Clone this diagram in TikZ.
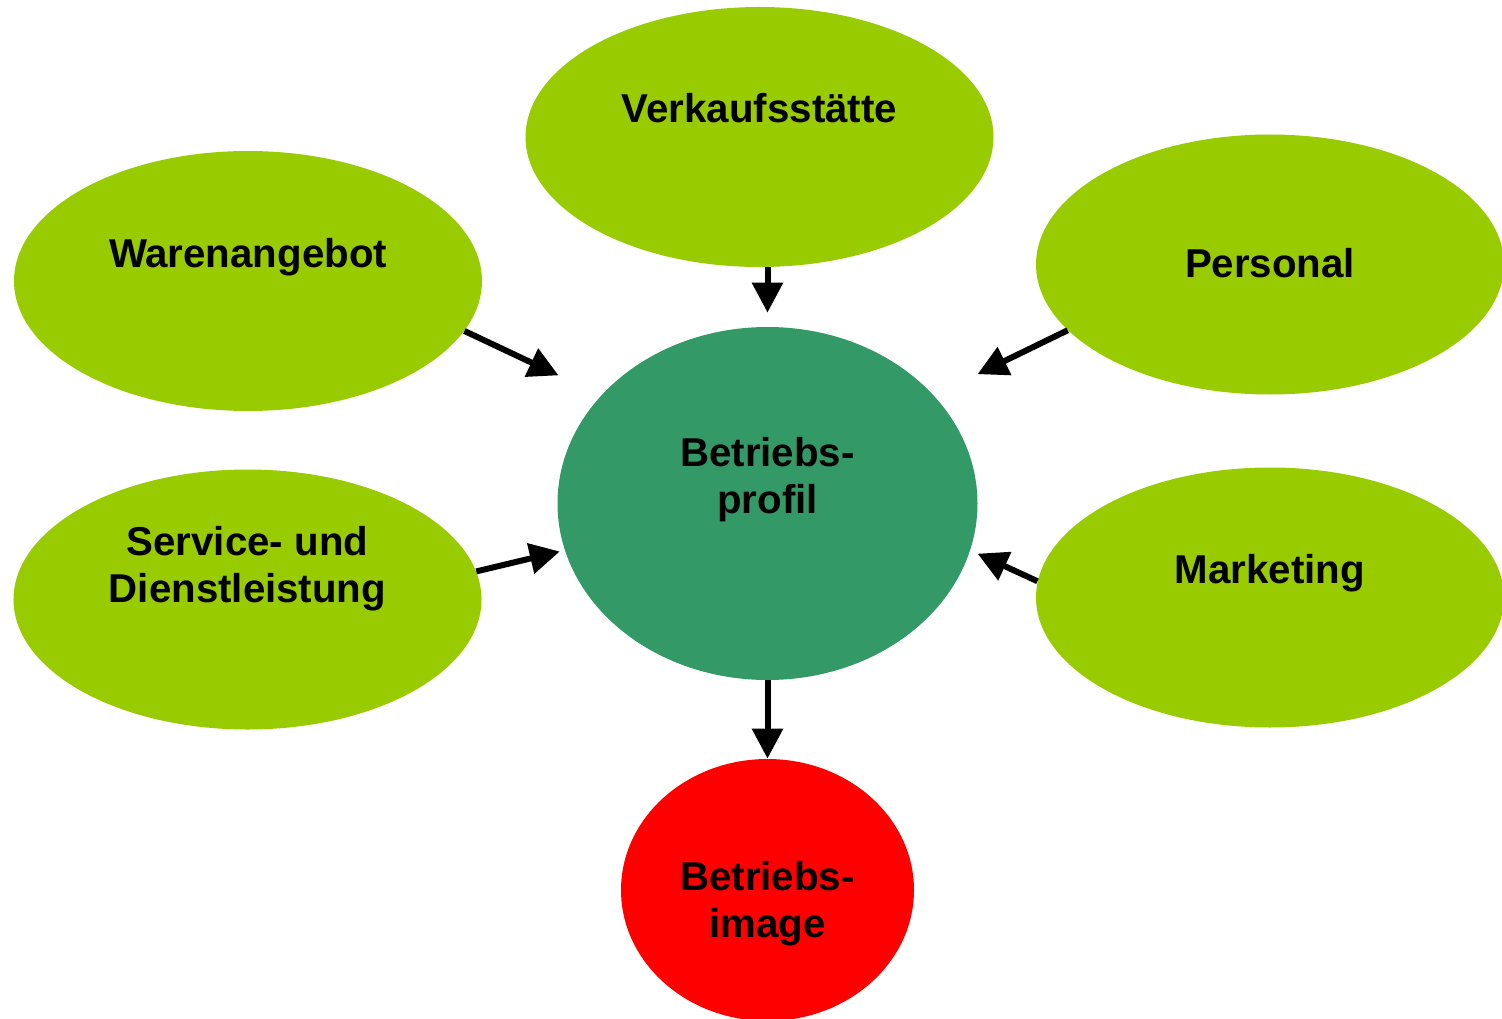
\documentclass[tikz,border=0pt]{standalone}
\usepackage{fontspec}
\setmainfont{Liberation Sans}
\usetikzlibrary{shapes.geometric,arrows.meta}
\definecolor{leafgreen}{HTML}{99CC00}
\definecolor{profilgreen}{HTML}{339966}
\definecolor{imagered}{HTML}{FF0000}
\begin{document}
\begin{tikzpicture}[
    blob/.style={ellipse, inner sep=0pt},
    leaf/.style={blob, fill=leafgreen, minimum width=9.36cm, minimum height=5.2cm},
    txt/.style={font=\fontsize{22.9}{26.9}\selectfont\bfseries, align=center, inner sep=0pt},
    arr/.style={line width=0.12cm, -{Triangle[length=0.6cm, width=0.6cm]}}
]
    % Frame
    \useasboundingbox (0,0) rectangle (30.04,-20.38);

    % Outer ellipses
    \node[leaf] (verk) at (15.19,-2.74) {};
    \node[leaf] (waren) at (4.96,-5.62) {};
    \node[leaf] (personal) at (25.4,-5.29) {};
    \node[leaf] (service) at (4.95,-11.99) {};
    \node[leaf] (marketing) at (25.4,-11.95) {};

    % Centre and result
    \node[blob, fill=profilgreen, minimum width=8.4cm, minimum height=7.06cm] (profil) at (15.35,-10.07) {};
    \node[blob, fill=imagered, minimum width=5.86cm, minimum height=5.24cm] (image) at (15.35,-17.8) {};

    % Labels
    \node[txt, anchor=base] (verktxt) at ([yshift=0.28cm]verk.center) {Verkaufsstätte};
    \node[txt, anchor=base] (warentxt) at ([yshift=0.28cm]waren.center) {Warenangebot};
    \node[txt, anchor=base] (personaltxt) at ([yshift=-0.25cm]personal.center) {Personal};
    \node[txt, anchor=base] (marketingtxt) at ([yshift=0.29cm]marketing.center) {Marketing};
    \node[txt] (servicetxt) at ([yshift=0.62cm]service.center) {Service- und\\Dienstleistung};
    \node[txt] (profiltxt) at ([yshift=0.48cm]profil.center) {Betriebs-\\profil};
    \node[txt] (imagetxt) at ([yshift=-0.27cm]image.center) {Betriebs-\\image};

    % Arrows
    \draw[arr, shorten >=0.28cm] (verk.-86 -| profil.north) -- (profil.north);
    \draw[arr, shorten >=0.94cm] (waren.-13) -- (profil.147);
    \draw[arr, shorten >=0.97cm] (personal.-162) -- (profil.33);
    \draw[arr, shorten >=0.1cm] (service.7) -- (profil.-167);
    \draw[arr, shorten >=0.16cm] (marketing.176) -- (profil.-13);
    \draw[arr] (profil.south) -- (image.north);
\end{tikzpicture}
\end{document}
